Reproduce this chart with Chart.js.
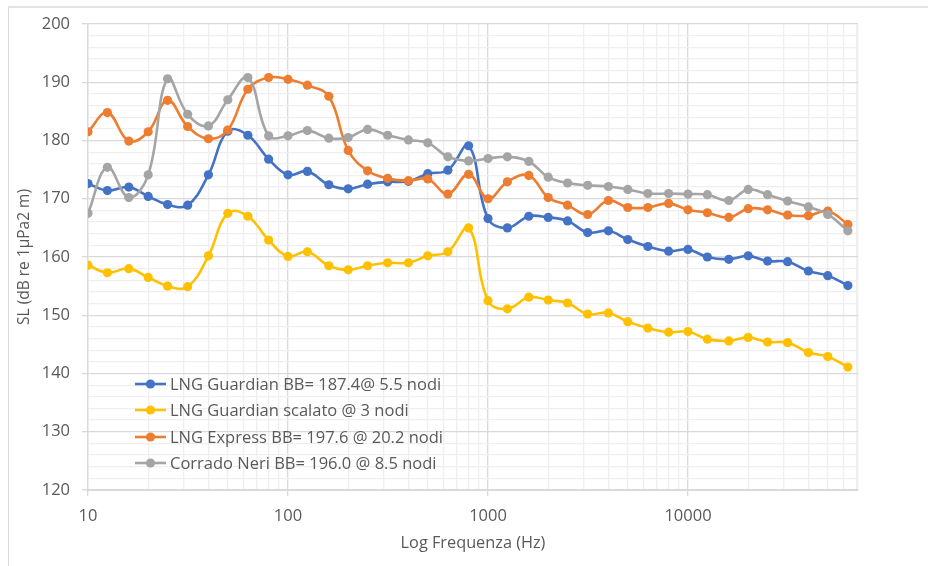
<!DOCTYPE html>
<html>
<head>
<meta charset="utf-8">
<script src="https://cdn.jsdelivr.net/npm/chart.js@4.4.1/dist/chart.umd.min.js"></script>
<style>
  html, body { margin: 0; padding: 0; background: #ffffff; }
  #wrap { position: relative; width: 928px; height: 566px; overflow: hidden; }
  #frame { position: absolute; left: 8px; top: 6px; right: -2px; bottom: -2px;
           border-left: 1px solid #d9d9d9; border-top: 2px solid #e3e3e3; pointer-events: none; }
  canvas { position: absolute; left: 0; top: 0; }
</style>
</head>
<body>
<div id="wrap">
  <canvas id="chart" width="928" height="566"></canvas>
  <div id="frame"></div>
</div>
<script>
// One-third octave band centre frequencies (Hz)
const freqs = [10, 12.5, 16, 20, 25, 31.5, 40, 50, 63, 80, 100, 125, 160, 200, 250, 315, 400, 500, 630, 800,
  1000, 1250, 1600, 2000, 2500, 3150, 4000, 5000, 6300, 8000,
  10000, 12500, 16000, 20000, 25000, 31500, 40000, 50000, 63000];

// Source levels, dB re 1µPa2 m
const guardianBB = [172.6, 171.4, 172.0, 170.4, 169.0, 168.9, 174.1, 181.6, 180.9, 176.8, 174.1,
  174.7, 172.4, 171.7, 172.5, 172.9, 173.0, 174.3, 174.9, 179.1,
  166.6, 165.0, 167.0, 166.8, 166.2, 164.2, 164.5, 163.0, 161.8, 161.0,
  161.3, 160.0, 159.6, 160.2, 159.3, 159.2, 157.6, 156.8, 155.1];

const guardianScaled = [158.6, 157.3, 158.0, 156.5, 155.0, 154.9, 160.2, 167.5, 167.0, 162.9, 160.1,
  160.9, 158.5, 157.8, 158.5, 159.0, 159.0, 160.2, 160.9, 165.0,
  152.5, 151.1, 153.1, 152.6, 152.1, 150.2, 150.4, 148.9, 147.8, 147.1,
  147.2, 145.9, 145.6, 146.2, 145.4, 145.3, 143.6, 142.9, 141.1];

const expressBB = [181.5, 184.8, 179.9, 181.5, 186.9, 182.4, 180.3, 181.8, 188.8, 190.8, 190.5,
  189.5, 187.6, 178.3, 174.8, 173.5, 173.1, 173.4, 170.8, 174.2,
  170.0, 172.9, 174.0, 170.2, 168.9, 167.3, 169.7, 168.5, 168.5, 169.2,
  168.1, 167.6, 166.8, 168.3, 168.1, 167.2, 167.1, 167.9, 165.6];

const neriBB = [167.5, 175.4, 170.2, 174.1, 190.6, 184.5, 182.5, 187.0, 190.8, 180.8, 180.8,
  181.7, 180.4, 180.5, 181.9, 180.9, 180.1, 179.6, 177.2, 176.5,
  176.9, 177.2, 176.4, 173.7, 172.7, 172.3, 172.1, 171.6, 170.9, 170.9,
  170.8, 170.7, 169.7, 171.6, 170.7, 169.6, 168.6, 167.3, 164.5];

const seriesNames = [
  'LNG Guardian BB= 187.4@ 5.5 nodi',
  'LNG Guardian scalato @ 3 nodi',
  'LNG Express BB= 197.6 @ 20.2 nodi',
  'Corrado Neri BB= 196.0 @ 8.5 nodi'
];
const seriesColors = ['#4472C4', '#FFC000', '#ED7D31', '#A5A5A5'];
const seriesValues = [guardianBB, guardianScaled, expressBB, neriBB];

const xMajorLabels = [10, 100, 1000, 10000];
const xMin = 10, xMax = 70800;
const yMin = 120, yMax = 200, yMajorStep = 10, yMinorStep = 2;

const FONT = '"Open Sans", "Noto Sans", sans-serif';
const TEXT = '#595959';

const isMajorX = v => Math.abs(Math.log10(v) - Math.round(Math.log10(v))) < 1e-9;
const isMajorY = v => Math.abs(v % yMajorStep) < 1e-9;

const datasets = seriesValues.map((vals, i) => ({
  label: seriesNames[i],
  data: freqs.map((f, j) => ({ x: f, y: vals[j] })),
  borderColor: seriesColors[i],
  backgroundColor: seriesColors[i],
  borderWidth: 2.6,
  pointRadius: 4.6,
  pointBorderWidth: 0,
  pointHoverRadius: 4.6,
  tension: 0.4,
  fill: false,
  order: 3 - i
}));

// Legend drawn inside the plot area, lower left
const innerLegend = {
  id: 'innerLegend',
  afterDatasetsDraw(chart) {
    const ctx = chart.ctx;
    const x0 = 135, x1 = 166, tx = 170;
    const rows = [384, 410, 437, 463];
    ctx.save();
    ctx.font = '16.5px ' + FONT;
    ctx.textBaseline = 'middle';
    ctx.textAlign = 'left';
    chart.data.datasets.forEach((ds, i) => {
      const y = rows[i];
      ctx.strokeStyle = ds.borderColor;
      ctx.lineWidth = 2.6;
      ctx.beginPath(); ctx.moveTo(x0, y); ctx.lineTo(x1, y); ctx.stroke();
      ctx.fillStyle = ds.backgroundColor;
      ctx.beginPath(); ctx.arc((x0 + x1) / 2, y, 4.6, 0, Math.PI * 2); ctx.fill();
      ctx.fillStyle = TEXT;
      ctx.fillText(ds.label, tx, y + 1);
    });
    ctx.restore();
  }
};

new Chart(document.getElementById('chart'), {
  type: 'line',
  data: { datasets },
  plugins: [innerLegend],
  options: {
    responsive: false,
    animation: false,
    events: [],
    layout: { padding: { left: 0, right: 70, top: 24, bottom: 0 } },
    plugins: { legend: { display: false }, tooltip: { enabled: false } },
    scales: {
      x: {
        type: 'logarithmic',
        min: xMin,
        max: xMax,
        afterBuildTicks(scale) {
          const ticks = [];
          for (let d = 10; d <= xMax; d *= 10) {
            for (let m = 1; m <= 9; m++) {
              const v = d * m;
              if (v <= xMax) ticks.push({ value: v });
            }
          }
          ticks.push({ value: xMax });
          scale.ticks = ticks;
        },
        afterFit(scale) { scale.height = 76; },
        grid: {
          color: c => (c.tick && isMajorX(c.tick.value)) ? '#d9d9d9' : '#efefef',
          tickColor: c => (c.tick && isMajorX(c.tick.value)) ? '#d9d9d9' : 'rgba(0,0,0,0)',
          tickLength: 6,
          lineWidth: 1.3
        },
        border: { color: '#d9d9d9', width: 2 },
        ticks: {
          autoSkip: false,
          maxRotation: 0,
          padding: 10,
          color: TEXT,
          font: { family: FONT, size: 16.5 },
          callback: v => xMajorLabels.includes(v) ? String(v) : ''
        },
        title: {
          display: true,
          text: 'Log Frequenza (Hz)',
          color: TEXT,
          font: { family: FONT, size: 16.3 },
          padding: { top: 0, bottom: 13 }
        }
      },
      y: {
        min: yMin,
        max: yMax,
        afterFit(scale) { scale.width = 88; },
        ticks: {
          stepSize: yMinorStep,
          autoSkip: false,
          padding: 12,
          color: TEXT,
          font: { family: FONT, size: 16.5 },
          callback: v => isMajorY(v) ? String(v) : ''
        },
        grid: {
          color: c => (c.tick && isMajorY(c.tick.value)) ? '#d9d9d9' : '#efefef',
          tickColor: c => (c.tick && isMajorY(c.tick.value)) ? '#d9d9d9' : 'rgba(0,0,0,0)',
          tickLength: 6,
          lineWidth: 1.3
        },
        border: { color: '#d9d9d9', width: 1.3 },
        title: {
          display: true,
          text: 'SL (dB re 1µPa2 m)',
          color: TEXT,
          font: { family: FONT, size: 15.5 },
          padding: { top: 15, bottom: 0 }
        }
      }
    }
  }
});
</script>
</body>
</html>
